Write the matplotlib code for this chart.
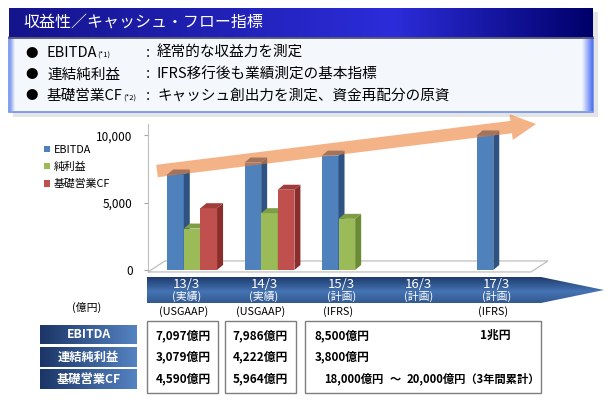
import numpy as np
import matplotlib
matplotlib.use('Agg')
import matplotlib.pyplot as plt
from matplotlib.patches import Rectangle, Polygon, FancyArrow
from matplotlib.colors import LinearSegmentedColormap
import matplotlib.transforms as mtransforms

plt.rcParams['font.family'] = ['Noto Sans CJK JP', 'DejaVu Sans']

# ---------------- data ----------------
categories = ['13/3', '14/3', '15/3', '16/3', '17/3']
phase = ['(実績)', '(実績)', '(計画)', '(計画)', '(計画)']
standards = ['(USGAAP)', '(USGAAP)', '(IFRS)', '', '(IFRS)']
series_names = ['EBITDA', '純利益', '基礎営業CF']
ebitda = [7097, 7986, 8500, np.nan, 10000]
net_income = [3079, 4222, 3800, np.nan, np.nan]
core_cf = [4590, 5964, np.nan, np.nan, np.nan]
row_names = ['EBITDA', '連結純利益', '基礎営業CF']
ebitda_text = ['7,097億円', '7,986億円', '8,500億円', '', '1兆円']
net_text = ['3,079億円', '4,222億円', '3,800億円', '', '']
cf_text = ['4,590億円', '5,964億円', '', '', '']
cf_plan_low = '18,000億円'
cf_plan_sep = '～'
cf_plan_high = '20,000億円（3年間累計）'
yticks = [0, 5000, 10000]
ytick_labels = ['0', '5,000', '10,000']
unit_label = '(億円)'
title = '収益性／キャッシュ・フロー指標'
bullet_names = ['EBITDA', '連結純利益', '基礎営業CF']
bullet_notes = ['(*1)', '', '(*2)']
bullet_desc = ['経常的な収益力を測定', 'IFRS移行後も業績測定の基本指標',
               'キャッシュ創出力を測定、資金再配分の原資']

# ---------------- figure ----------------
W, H = 611, 400
fig = plt.figure(figsize=(W / 100, H / 100), dpi=100)
fig.patch.set_facecolor('white')

bg = fig.add_axes([0, 0, 1, 1], zorder=0)
bg.axis('off')


def grad_rect(a, x0, y0, x1, y1, colors, direction='h', zorder=1, clip=None):
    cmap = LinearSegmentedColormap.from_list('g', colors)
    if direction == 'h':
        arr = np.linspace(0, 1, 256).reshape(1, -1)
    else:
        arr = np.linspace(0, 1, 256).reshape(-1, 1)
    im = a.imshow(arr, cmap=cmap, extent=(x0, x1, y1, y0), aspect='auto',
                  zorder=zorder, interpolation='bilinear')
    if clip is not None:
        im.set_clip_path(clip)
    return im


# ---- header panel ----
bg.add_patch(Rectangle((13, 12), 585, 105, fc='#E4E4E4', ec='none', zorder=0.5))
bg.add_patch(Rectangle((9, 37), 584, 75, fc='#F4F8FD', ec='#6F8FEA', lw=1.2, zorder=1))
grad_rect(bg, 582, 38, 592.4, 111.4, ['#F4F8FD', '#4A6CF0'], 'h', zorder=1.2)
grad_rect(bg, 9.6, 38, 14, 111.4, ['#7C98EE', '#F4F8FD'], 'h', zorder=1.2)
grad_rect(bg, 9, 8, 593, 37, [(0, '#14148C'), (0.66, '#2C2CDA'), (1, '#00006A')], 'h', zorder=1.5)
bg.plot([9, 593], [37.5, 37.5], color='#4A4A6A', lw=1.2, zorder=1.6)
bg.text(23, 22.5, title, color='white', fontsize=11.5, ha='left', va='center', zorder=3)

row_y = [53, 74.5, 96]
for j in range(3):
    y = row_y[j]
    bg.text(32, y, '●', fontsize=9, ha='center', va='center', zorder=3)
    t = bg.text(47, y, bullet_names[j], fontsize=10.5, ha='left', va='center', zorder=3)
    if bullet_notes[j]:
        bg.annotate(bullet_notes[j], xy=(1, 0.38), xycoords=t, fontsize=5.5,
                    ha='left', va='center', zorder=3)
    bg.text(148, y, ':', fontsize=10.5, ha='center', va='center', zorder=3)
    bg.text(157, y, bullet_desc[j], fontsize=10.5, ha='left', va='center', zorder=3)

# ---------------- chart axes ----------------
ax_left, ax_w = 148, 400
ax_bottom, ax_h = 274, 150
ax = fig.add_axes([ax_left / W, (H - ax_bottom) / H, ax_w / W, ax_h / H], zorder=1)
ax.patch.set_alpha(0)
xlim = (-0.57, 4.6)
ylim = (-300, 10850)
ax.set_xlim(*xlim)
ax.set_ylim(*ylim)
px_x = ax_w / (xlim[1] - xlim[0])
px_y = ax_h / (ylim[1] - ylim[0])

# floor
fd_x, fd_y = 17 / px_x, 11 / px_y
f0 = -2 / px_y
ax.add_patch(Polygon([(xlim[0], f0), (xlim[1] - fd_x, f0), (xlim[1], f0 + fd_y),
                      (xlim[0] + fd_x, f0 + fd_y)], closed=True, fc='white',
                     ec='#BFBFBF', lw=0.9, zorder=1.5, clip_on=False))

width = 0.215
offsets = [-width, 0, width]
series = [ebitda, net_income, core_cf]
face_colors = [('#4F81BD', '#2E5282', '#3E6699'),
               ('#9BBB59', '#6A8A33', '#7F9D44'),
               ('#C0504D', '#8A2D2B', '#A03D3A')]
dx, dy = 6 / px_x, 5 / px_y
x = np.arange(len(categories))
handles = []
for s in range(3):
    vals = np.array(series[s], dtype=float)
    m = np.isfinite(vals)
    front, side, top = face_colors[s]
    bars = ax.bar(x[m] + offsets[s], vals[m], width, color=front, lw=0,
                  zorder=2 + 3 * s)
    handles.append(bars)
    for r in bars:
        x0 = r.get_x()
        x1 = x0 + r.get_width()
        h = r.get_height()
        ax.add_patch(Polygon([(x1, 0), (x1, h), (x1 + dx, h + dy), (x1 + dx, dy)],
                             closed=True, fc=side, ec='none', zorder=2.5 + 3 * s))
        ax.add_patch(Polygon([(x0, h), (x1, h), (x1 + dx, h + dy), (x0 + dx, h + dy)],
                             closed=True, fc=top, ec='none', zorder=2.6 + 3 * s))

for sp in ['top', 'right', 'bottom']:
    ax.spines[sp].set_visible(False)
ax.spines['left'].set_color('#BFBFBF')
ax.spines['left'].set_bounds(f0, ylim[1])
ax.set_xticks([])
ax.set_yticks(yticks)
ax.set_yticklabels(ytick_labels)
ax.tick_params(axis='y', length=3, color='#A6A6A6', labelsize=8.5, pad=8,
               labelcolor='black')

fig.legend(handles, series_names, loc='upper left',
           bbox_to_anchor=(44 / W, 1 - 145 / H), frameon=False, fontsize=7.8,
           borderpad=0, borderaxespad=0, handlelength=0.55, handleheight=0.55,
           handletextpad=0.35, labelspacing=0.62)

# ---------------- overlay: trend arrow ----------------
ov = fig.add_axes([0, 0, 1, 1], zorder=2)
ov.axis('off')
ov.patch.set_alpha(0)
ov.add_patch(FancyArrow(157, 171, 536 - 157, 124 - 171, width=12.5, head_width=26,
                        head_length=25, length_includes_head=True, fc='#ED7D31',
                        ec='none', alpha=0.58))

# ---------------- timeline & table ----------------
tl = Polygon([(147, 277), (541, 277), (604, 290), (541, 303), (147, 303)],
             closed=True, fc='none', ec='none')
bg.add_patch(tl)
grad_rect(bg, 147, 277, 604, 303, [(0, '#1E3A6C'), (0.55, '#4574B4'), (1, '#33598F')],
          'v', zorder=2, clip=tl)

trans = mtransforms.blended_transform_factory(ax.transData, bg.transData)
for i, c in enumerate(categories):
    bg.text(i - 0.07, 284, c, transform=trans, color='white', fontsize=9.5,
            ha='center', va='center', zorder=5)
    bg.text(i - 0.07, 296, phase[i], transform=trans, color='white', fontsize=7.8,
            ha='center', va='center', zorder=5)
    if standards[i]:
        bg.text(i - 0.11, 312, standards[i], transform=trans, fontsize=7.8,
                ha='center', va='center', zorder=5)

bg.text(87, 307, unit_label, fontsize=7.8, ha='center', va='center', zorder=5)

for (bx0, bx1) in [(147, 218), (225, 296), (305, 541)]:
    bg.add_patch(Rectangle((bx0, 321), bx1 - bx0, 72, fc='white', ec='#7F7F7F',
                           lw=1.0, zorder=2))

lab_rows = [(325, 344), (347, 367), (369.5, 389)]
for k, (y0, y1) in enumerate(lab_rows):
    grad_rect(bg, 40, y0, 137, y1, [(0, '#1B3566'), (1, '#5583C2')], 'h', zorder=2)
    bg.text(88.5, (y0 + y1) / 2, row_names[k], color='white', fontsize=8.8,
            fontweight='bold', ha='center', va='center', zorder=5)

val_y = [335.5, 357, 379]
row_texts = [ebitda_text, net_text, cf_text]
fs_val = 8.5
for k in range(3):
    for i in range(len(categories)):
        txt = row_texts[k][i]
        if not txt:
            continue
        if i < 2:
            bg.text(i - 0.12, val_y[k], txt, transform=trans, fontsize=fs_val,
                    fontweight='bold', ha='center', va='center', zorder=5)
        elif i == 2:
            bg.text(i - 0.42, val_y[k], txt, transform=trans, fontsize=fs_val,
                    fontweight='bold', ha='left', va='center', zorder=5)
        else:
            bg.text(i - 0.085, val_y[k], txt, transform=trans, fontsize=fs_val,
                    fontweight='bold', ha='center', va='center', zorder=5)

fs_plan = 8.1
bg.text(2 - 0.30, val_y[2], cf_plan_low, transform=trans, fontsize=fs_plan,
        fontweight='bold', ha='left', va='center', zorder=5)
bg.text(2 + 0.63, val_y[2], cf_plan_sep, transform=trans, fontsize=fs_plan,
        fontweight='bold', ha='center', va='center', zorder=5)
bg.text(2 + 0.77, val_y[2], cf_plan_high, transform=trans, fontsize=fs_plan,
        fontweight='bold', ha='left', va='center', zorder=5)

for a in (bg, ov):
    a.set_xlim(0, W)
    a.set_ylim(H, 0)

fig.savefig('out.png', dpi=100)
